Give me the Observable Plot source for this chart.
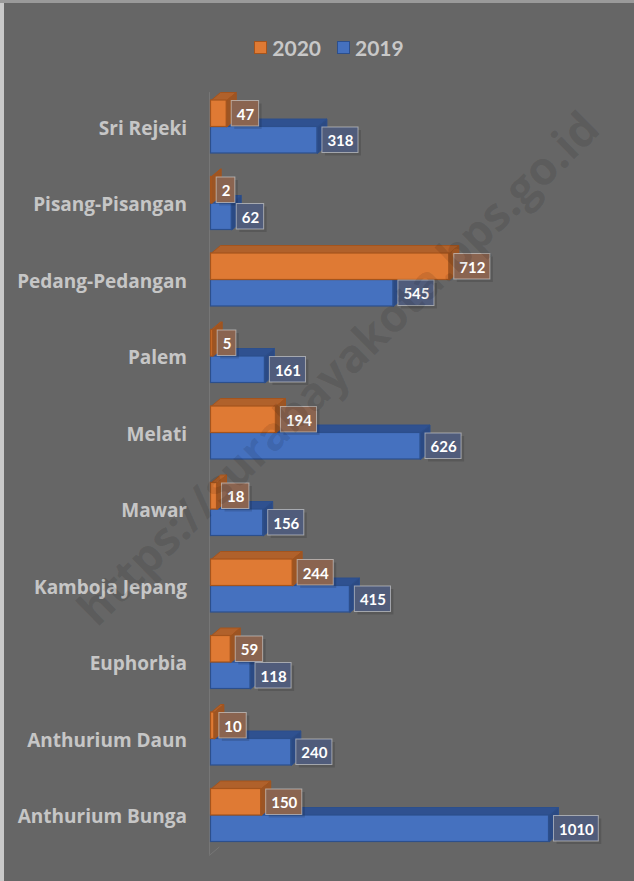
<!DOCTYPE html>
<html>
<head>
<meta charset="utf-8">
<script src="https://cdn.jsdelivr.net/npm/d3@7"></script>
<script src="https://cdn.jsdelivr.net/npm/@observablehq/plot@0.6"></script>
<style>
  html, body { margin: 0; padding: 0; }
  body { width: 634px; height: 881px; background: #666666; position: relative; overflow: hidden;
         font-family: Lato, "Open Sans", sans-serif; }
  #edgeL { position: absolute; left: 0; top: 0; width: 4px; height: 881px; background: #c9c9c9; }
  #edgeT { position: absolute; left: 0; top: 0; width: 634px; height: 3px; background: #9a9a9a; }
  #legend { height: 80px; display: flex; justify-content: center; align-items: center; box-sizing: border-box;
            padding-left: 24px; padding-top: 14px; font-weight: 700; font-size: 21px; color: #c8c8c8; }
  .item { display: flex; align-items: center; margin: 0 8px; }
  .sw { width: 11px; height: 11px; margin-right: 5px; border: 1px solid; }
  #chart svg { display: block; background: transparent; }
  #wm { position: absolute; left: 337px; top: 367px; transform: translate(-50%, -50%) rotate(-44.5deg);
        font-family: "Open Sans", sans-serif; font-weight: 700; font-size: 46px; color: rgba(0,0,0,0.10);
        white-space: nowrap; pointer-events: none; }
</style>
</head>
<body>
<div id="edgeL"></div><div id="edgeT"></div>
<div id="legend"></div>
<div id="chart"></div>
<div id="wm">https://surabayakota.bps.go.id</div>
<script>
const categories = ["Sri Rejeki","Pisang-Pisangan","Pedang-Pedangan","Palem","Melati","Mawar","Kamboja Jepang","Euphorbia","Anthurium Daun","Anthurium Bunga"];
const values2020 = [47, 2, 712, 5, 194, 18, 244, 59, 10, 150];
const values2019 = [318, 62, 545, 161, 626, 156, 415, 118, 240, 1010];
const seriesNames = ["2020", "2019"];
const frontColors = ["#df7a34", "#4571bf"];
const topColors = ["#b0612b", "#2f5190"];
const sideColors = ["#9c5524", "#2b4a84"];
const edgeColors = ["#a4541d", "#2c4f8c"];
const labelFill = ["#8a6450", "#505c7b"];

// legend
const legend = document.getElementById("legend");
seriesNames.forEach((s, j) => {
  const it = document.createElement("div"); it.className = "item";
  const sw = document.createElement("div"); sw.className = "sw";
  sw.style.background = frontColors[j]; sw.style.borderColor = edgeColors[j];
  const tx = document.createElement("span"); tx.textContent = s;
  it.append(sw, tx); legend.append(it);
});

// layout
const W = 634, H = 801;
const xRange = [210.5, 548.5], xMax = 1010;
const k = (xRange[1] - xRange[0]) / xMax;      // px per unit
const yRange = [46.5, 46.5 + 76.5 * (categories.length - 1)];
const rowPx = 76.5;
const half = 26.5 / rowPx;                     // bar thickness in row units
const depthX = 9.5 / k, depthY = 8 / rowPx;    // 3D depth in data units

// rows
const bars = [];
categories.forEach((c, i) => {
  [values2019[i], values2020[i]].forEach((v, jj) => {
    const j = jj === 0 ? 1 : 0; // draw 2019 first (behind)
    const y1 = j === 0 ? i - half : i;
    const y2 = j === 0 ? i : i + half;
    bars.push({cat: c, i, j, series: seriesNames[j], value: v, y1, y2});
  });
});

const faces = [];
bars.forEach((b, n) => {
  const top = [[0, b.y1], [depthX, b.y1 - depthY], [b.value + depthX, b.y1 - depthY], [b.value, b.y1], [0, b.y1]];
  const side = [[b.value, b.y1], [b.value + depthX, b.y1 - depthY], [b.value + depthX, b.y2 - depthY], [b.value, b.y2], [b.value, b.y1]];
  top.forEach(([x, y]) => faces.push({id: "t" + n, x, y, fill: topColors[b.j], stroke: edgeColors[b.j], ord: n}));
  side.forEach(([x, y]) => faces.push({id: "s" + n, x, y, fill: sideColors[b.j], stroke: edgeColors[b.j], ord: n}));
});

// measure text for label boxes
const ctx = document.createElement("canvas").getContext("2d");
const labelFont = "700 15px Lato";
ctx.font = labelFont;
const labels = bars.map(b => {
  const w = ctx.measureText(String(b.value)).width + 10;
  return {...b, bx1: b.value + 5 / k, bx2: b.value + (5 + w) / k};
});

const layers = [];
// axis line and floor diagonal
layers.push(Plot.ruleX([0], {y1: -0.45, y2: categories.length - 1 + 0.52, stroke: "#767676", strokeWidth: 1, dx: -1.5}));
layers.push(Plot.line([{x: 0, y: categories.length - 1 + 0.52}, {x: depthX, y: categories.length - 1 + 0.52 - depthY}],
  {x: "x", y: "y", stroke: "#767676", strokeWidth: 1, dx: -1.5}));

// bars: 2019 series first then 2020, each bar back faces then front
for (const jj of [1, 0]) {
  const bs = bars.filter(b => b.j === jj);
  const ids = new Set(bs.map(b => bars.indexOf(b)));
  const fs = faces.filter(f => ids.has(f.ord));
  layers.push(Plot.line(fs.filter(f => f.id[0] === "t"), {x: "x", y: "y", z: "id", fill: "fill", stroke: "stroke", strokeWidth: 1, curve: "linear"}));
  layers.push(Plot.line(fs.filter(f => f.id[0] === "s"), {x: "x", y: "y", z: "id", fill: "fill", stroke: "stroke", strokeWidth: 1, curve: "linear"}));
  layers.push(Plot.rect(bs, {x1: 0, x2: "value", y1: "y1", y2: "y2", fill: frontColors[jj], stroke: edgeColors[jj], strokeWidth: 1.2}));
}

// label boxes with shadow
layers.push(Plot.rect(labels, {x1: "bx1", x2: "bx2", y1: "y1", y2: "y2", fill: "#000", fillOpacity: 0.13, dx: 3, dy: 3, insetTop: 0.5, insetBottom: 0.5}));
layers.push(Plot.rect(labels, {x1: "bx1", x2: "bx2", y1: "y1", y2: "y2", fill: d => labelFill[d.j], stroke: "#d9d9d9", strokeOpacity: 0.6, strokeWidth: 1, insetTop: 0.5, insetBottom: 0.5}));
layers.push(Plot.text(labels, {x: "value", y: d => (d.y1 + d.y2) / 2, text: d => String(d.value), textAnchor: "start", dx: 10, dy: 1,
  fill: "#ffffff", fontWeight: 700, fontSize: 15}));

// category labels
layers.push(Plot.text(categories.map((c, i) => ({c, i})), {x: 0, y: "i", text: "c", textAnchor: "end", dx: -24, dy: 1.5,
  fill: "#c6c6c6", fontWeight: 700, fontSize: 19, fontFamily: "'Open Sans', sans-serif"}));

const chart = Plot.plot({
  width: W, height: H,
  margin: 0,
  style: {background: "transparent", fontFamily: "Lato, 'Open Sans', sans-serif", overflow: "visible"},
  x: {domain: [0, xMax], range: xRange, axis: null},
  y: {domain: [0, categories.length - 1], range: yRange, axis: null},
  marks: layers
});
document.getElementById("chart").append(chart);
</script>
</body>
</html>
